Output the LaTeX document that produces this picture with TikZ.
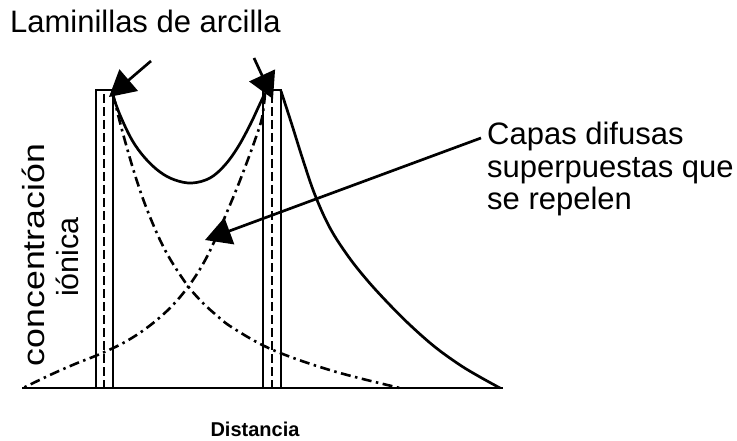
\documentclass[tikz,border=0pt]{standalone}
\usepackage{fontspec}
\setmainfont{Liberation Sans}
\usetikzlibrary{arrows.meta}
\begin{document}
\begin{tikzpicture}[x=1pt,y=-1pt,
  plate/.style={line width=2.6pt},
  platecore/.style={line width=2.2pt, dash pattern=on 9pt off 4pt},
  solidcurve/.style={line width=2.7pt},
  dashdot/.style={line width=2.6pt, dash pattern=on 10pt off 4.5pt on 2.5pt off 4.5pt},
  bigarrow/.style={line width=2.7pt, -{Triangle[length=26pt,width=28pt]}},
  lbl/.style={inner sep=0pt, font=\fontsize{31}{33}\selectfont},
  vlbl/.style={inner sep=0pt, font=\fontsize{30.5}{33}\selectfont},
  axlbl/.style={inner sep=0pt, font=\fontsize{20}{24}\selectfont\bfseries}]
\useasboundingbox (0,0) rectangle (737,441);
\fill[white] (0,0) rectangle (737,441);

% plates
\draw[plate] (96,388) rectangle (113,90);
\draw[plate] (263,388) rectangle (281,90);
\draw[platecore] (104,94) -- (104,388);
\draw[platecore] (272,94) -- (272,388);

% baseline
\coordinate (b0) at (22,388);
\coordinate (b1) at (503,388);
\draw[line width=2.8pt] (b0) -- (b1);

% solid U between plates
\draw[solidcurve] plot[smooth, tension=0.6] coordinates {(112,93) (120,115) (132,140) (145,158) (160,172) (175,180) (192,183) (210,178) (225,165) (238,147) (250,125) (258,108) (265,93)};
% solid decay right
\draw[solidcurve] plot[smooth, tension=0.6] coordinates {(281,91) (292,125) (303,160) (315,195) (330,228) (348,256) (367,280) (388,303) (410,325) (435,347) (460,365) (480,377) (500,388)};

% dash-dot from left plate decaying right
\draw[dashdot] plot[smooth, tension=0.6] coordinates {(113,94) (122,130) (135,175) (148,212) (165,250) (185,282) (200,300) (215,314) (233,328) (273,350) (333,371) (400,388)};
% dash-dot from right plate decaying left
\draw[dashdot] plot[smooth, tension=0.6] coordinates {(265,94) (262,118) (255,140) (247,162) (237,188) (227,212) (215,240) (203,264) (188,287) (170,308) (148,327) (125,342) (100,354) (75,364) (50,375) (23,388)};

% labels
\node[lbl, anchor=base west] (lam) at (10,33) {Laminillas de arcilla};
\node[lbl, anchor=base west] (cap1) at (487,145) {Capas difusas};
\node[lbl, anchor=base west] (cap2) at (487,178) {superpuestas que};
\node[lbl, anchor=base west] (cap3) at (487,210) {se repelen};
\node[vlbl, anchor=base, rotate=90, xscale=1.17] (conc) at (44,255) {concentración};
\node[vlbl, anchor=base, rotate=90] (ion) at (78,257) {iónica};
\node[axlbl, anchor=base] (dist) at (255,436) {Distancia};

% arrows
\coordinate (a1s) at (151,61);
\coordinate (a1e) at (109,97);
\coordinate (a2s) at (254,58);
\coordinate (a2e) at (273,99);
\coordinate (a3s) at (481,138);
\coordinate (a3e) at (205,240);
\draw[bigarrow] (a1s) -- (a1e);
\draw[bigarrow] (a2s) -- (a2e);
\draw[bigarrow] (a3s) -- (a3e);
\end{tikzpicture}
\end{document}
